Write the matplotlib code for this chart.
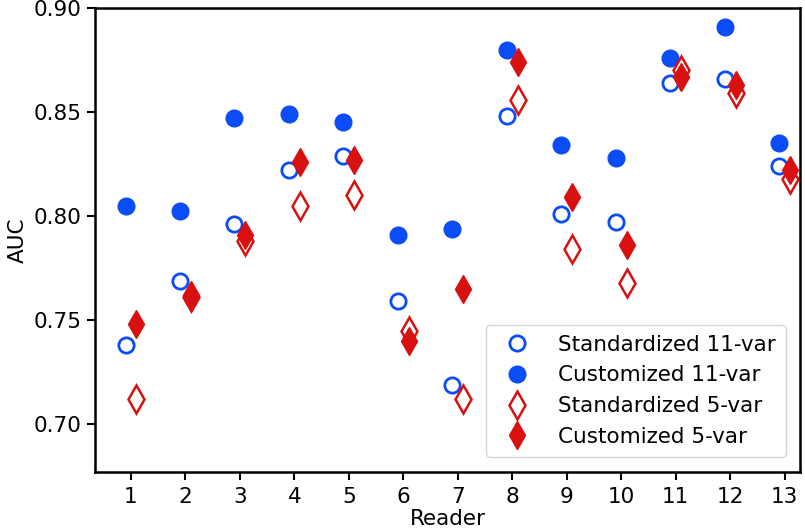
import numpy as np
import matplotlib
matplotlib.use("Agg")
import matplotlib.pyplot as plt

readers = np.arange(1, 14)
std_11 = [0.738, 0.769, 0.796, 0.822, 0.829, 0.759, 0.719, 0.848, 0.801, 0.797, 0.864, 0.866, 0.824]
cus_11 = [0.805, 0.8025, 0.847, 0.849, 0.845, 0.791, 0.794, 0.880, 0.834, 0.828, 0.876, 0.891, 0.835]
std_5 = [0.712, 0.761, 0.788, 0.805, 0.810, 0.745, 0.712, 0.856, 0.784, 0.768, 0.870, 0.859, 0.818]
cus_5 = [0.748, 0.762, 0.791, 0.826, 0.827, 0.740, 0.765, 0.874, 0.809, 0.786, 0.867, 0.863, 0.822]

blue = "#0a4cf5"
red = "#d81010"

fig = plt.figure(figsize=(8.05, 5.32), dpi=100)
ax = fig.add_axes([95 / 805, 1 - 472 / 532, 705 / 805, 464 / 532])

ax.plot(readers - 0.1, std_11, "o", ms=11, mfc="white", mec=blue, mew=2, ls="none",
        label="Standardized 11-var")
ax.plot(readers - 0.1, cus_11, "o", ms=12, color=blue, mec=blue, ls="none",
        label="Customized 11-var")
ax.plot(readers + 0.1, std_5, "d", ms=14, mfc="white", mec=red, mew=1.8, ls="none",
        label="Standardized 5-var")
ax.plot(readers + 0.1, cus_5, "d", ms=14, color=red, mec=red, ls="none",
        label="Customized 5-var")

ax.set_xlim(0.34, 13.28)
ax.set_ylim(0.677, 0.90)
ax.set_xticks(readers)
ax.set_yticks([0.70, 0.75, 0.80, 0.85, 0.90])
ax.set_yticklabels(["0.70", "0.75", "0.80", "0.85", "0.90"])
ax.tick_params(labelsize=15.5, width=1.5, length=6)
ax.tick_params(axis="x", pad=5)
for s in ax.spines.values():
    s.set_linewidth(1.8)
ax.set_xlabel("Reader", fontsize=15.5, labelpad=1)
ax.set_ylabel("AUC", fontsize=15.5, labelpad=4)

ax.legend(loc="lower right", fontsize=15.5, handletextpad=0.9, borderpad=0.45,
          labelspacing=0.5, framealpha=0.8, bbox_to_anchor=(0.995, 0.01))

fig.savefig("out.png", dpi=100)
